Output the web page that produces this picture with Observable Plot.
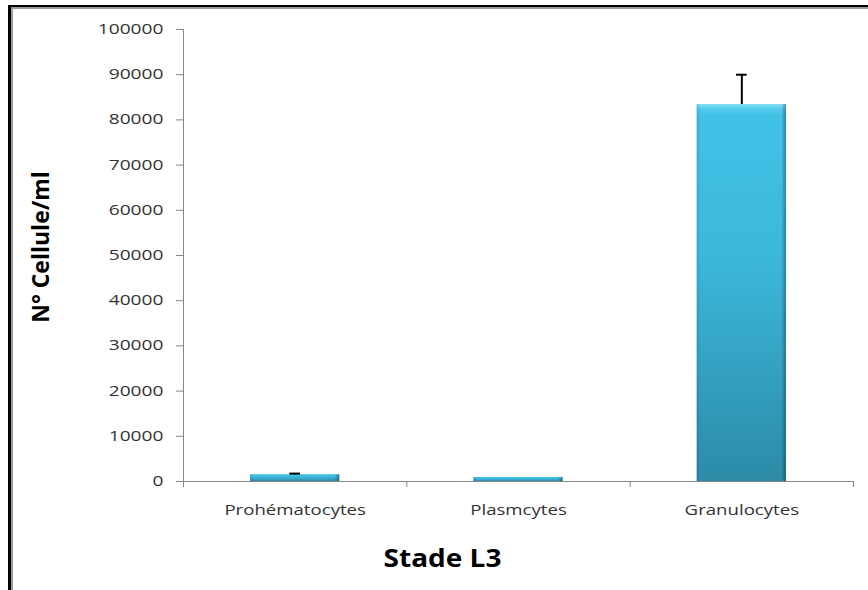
<!DOCTYPE html>
<html><head><meta charset="utf-8">
<script src="https://cdn.jsdelivr.net/npm/d3@7"></script>
<script src="https://cdn.jsdelivr.net/npm/@observablehq/plot@0.6"></script>
<style>
html,body{margin:0;padding:0;background:#fff;}
#wrap{position:relative;width:868px;height:590px;overflow:hidden;}
#wrap svg{position:absolute;left:0;top:0;}
.bt{position:absolute;left:8px;top:5px;right:0;height:2px;background:#000;}
.bt2{position:absolute;left:11px;top:7px;right:0;height:2px;background:#9a9a9a;}
.bl{position:absolute;left:8px;top:5px;bottom:0;width:3px;background:#000;}
.bl2{position:absolute;left:11px;top:7px;bottom:0;width:2px;background:#9a9a9a;}
</style></head><body><div id="wrap"></div>
<script>
const categories = ["Prohématocytes", "Plasmcytes", "Granulocytes"];
const means = [1500, 900, 83400];
const errors = [250, 0, 6600];
const yTicks = [0, 10000, 20000, 30000, 40000, 50000, 60000, 70000, 80000, 90000, 100000];
const xTitle = "Stade L3";
const yTitle = "N° Cellule/ml";

const data = categories.map((c, i) => ({c, i, mean: means[i], err: errors[i]}));
const withErr = data.filter(d => d.err > 0);
const barHalf = 0.2;
const capHalf = 0.024;
const axisGray = "#868686";

const chart = Plot.plot({
  width: 868,
  height: 590,
  marginLeft: 183,
  marginRight: 15,
  marginTop: 29,
  marginBottom: 109,
  style: {fontFamily: "'Open Sans', sans-serif", background: "transparent", color: "#333"},
  x: {type: "linear", domain: [0, categories.length], axis: null},
  y: {domain: [0, yTicks[yTicks.length - 1]], axis: null},
  marks: [
    Plot.rect(data, {x1: d => d.i + 0.5 - barHalf, x2: d => d.i + 0.5 + barHalf, y1: 0, y2: "mean", fill: "url(#barGrad)"}),
    Plot.rect(data, {x1: d => d.i + 0.5 - barHalf, x2: d => d.i + 0.5 + barHalf, y1: 0, y2: "mean", fill: "url(#sideGrad)"}),
    Plot.ruleX(withErr, {x: d => d.i + 0.5, y1: "mean", y2: d => d.mean + d.err, stroke: "#000", strokeWidth: 2}),
    Plot.ruleY(withErr, {y: d => d.mean + d.err, x1: d => d.i + 0.5 - capHalf, x2: d => d.i + 0.5 + capHalf, stroke: "#000", strokeWidth: 2}),
    Plot.ruleX([0], {y1: 0, y2: yTicks[yTicks.length - 1], stroke: axisGray}),
    Plot.ruleY([0], {stroke: axisGray}),
    Plot.axisY({ticks: yTicks, tickSize: 7, tickPadding: 13, tickFormat: d => String(d), label: null, stroke: axisGray, fill: "#333", fontSize: 14}),
    Plot.axisX({ticks: [0, 1, 2, 3], tickSize: 6, tickFormat: () => "", label: null, stroke: axisGray}),
    Plot.text(data, {x: d => d.i + 0.5, y: 0, text: "c", dy: 29, fontSize: 14, fill: "#333", lineAnchor: "middle", textAnchor: "middle"}),
    Plot.text([xTitle], {frameAnchor: "bottom", dy: 77, dx: -76, fontSize: 25, fontWeight: "bold", fill: "#000", lineAnchor: "middle", textAnchor: "middle"}),
    Plot.text([yTitle], {frameAnchor: "left", rotate: -90, dx: -142, dy: -8.5, fontSize: 23, fontWeight: "bold", fill: "#000", lineAnchor: "middle", textAnchor: "middle"})
  ]
});

const ns = "http://www.w3.org/2000/svg";
const defs = document.createElementNS(ns, "defs");
defs.innerHTML = `
<linearGradient id="barGrad" x1="0" y1="0" x2="0" y2="1">
  <stop offset="0" stop-color="#86e0f5"/>
  <stop offset="0.012" stop-color="#55cbec"/>
  <stop offset="0.03" stop-color="#40c2e6"/>
  <stop offset="0.4" stop-color="#3cb8dc"/>
  <stop offset="1" stop-color="#2c8ba7"/>
</linearGradient>
<linearGradient id="sideGrad" x1="0" y1="0" x2="1" y2="0">
  <stop offset="0" stop-color="#000" stop-opacity="0.12"/>
  <stop offset="0.04" stop-color="#000" stop-opacity="0"/>
  <stop offset="0.95" stop-color="#000" stop-opacity="0"/>
  <stop offset="0.97" stop-color="#000" stop-opacity="0.15"/>
  <stop offset="1" stop-color="#000" stop-opacity="0.3"/>
</linearGradient>`;
chart.insertBefore(defs, chart.firstChild);

const wrap = document.getElementById("wrap");
wrap.appendChild(chart);
["bt", "bt2", "bl", "bl2"].forEach(c => { const d = document.createElementNS ? document.createElement("div") : null; d.className = c; wrap.appendChild(d); });

function stretchText(t, k) {
  const w = t.getComputedTextLength();
  if (w > 0) { t.setAttribute("textLength", w * k); t.setAttribute("lengthAdjust", "spacingAndGlyphs"); }
}
chart.querySelectorAll('g[aria-label="y-axis tick label"] text').forEach(t => stretchText(t, 1.37));
chart.querySelectorAll("text").forEach(t => {
  const s = t.textContent;
  if (categories.includes(s)) stretchText(t, 1.33);
  else if (s === xTitle) stretchText(t, 1.12);
});
</script>
</body></html>
